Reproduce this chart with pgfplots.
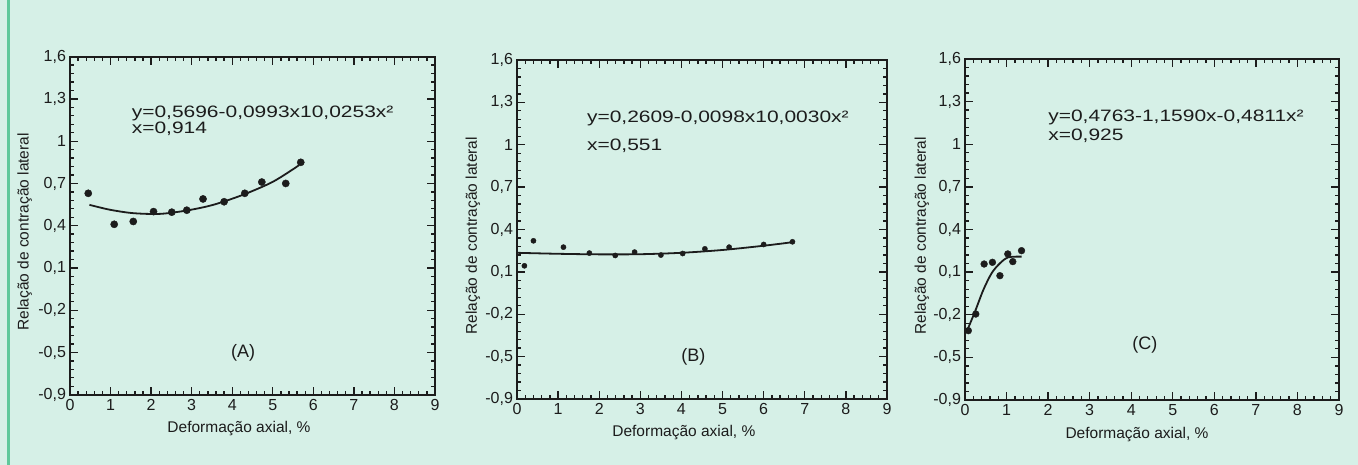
\documentclass[border=0pt]{standalone}
\usepackage{fontspec}
\setmainfont{Liberation Sans}
\usepackage{graphicx}
\usepackage{pgfplots}
\pgfplotsset{compat=1.18}
\definecolor{bgmint}{RGB}{214,240,231}
\definecolor{ink}{RGB}{28,28,28}
\definecolor{edgegreen}{RGB}{95,200,155}

\pgfplotsset{panel/.style={
  scale only axis,
  xmin=0, xmax=9, ymin=-0.8, ymax=1.6,
  xtick={0,...,9},
  ytick={-0.8,-0.5,-0.2,0.1,0.4,0.7,1.0,1.3,1.6},
  yticklabels={{-0,9},{-0,5},{-0,2},{0,1},{0,4},{0,7},{1},{1,3},{1,6}},
  minor x tick num=4, minor y tick num=4,
  tick align=inside,
  major tick length=8pt, minor tick length=4pt,
  axis line style={ink, line width=2.2pt},
  tick style={ink, line width=1.3pt},
  tick label style={font=\fontsize{16}{16}\selectfont, text=ink},
  yticklabel style={xshift=-0.5pt},
  xticklabel style={yshift=-1pt},
  /pgf/number format/assume math mode=true,
  xlabel={Deformação axial, \%},
  ylabel={Relação de contração lateral},
  label style={font=\fontsize{15.5}{16}\selectfont, text=ink},
  clip=false,
}}
\tikzset{eqn/.style={anchor=west, font=\fontsize{16.5}{17}\selectfont, text=ink, inner sep=0pt},
         tag/.style={anchor=center, font=\fontsize{18}{19}\selectfont, text=ink, inner sep=0pt}}
\newcommand{\wide}[1]{\scalebox{1.27}[1]{#1}}

\begin{document}
\begin{tikzpicture}
\fill[bgmint] (0pt,0pt) rectangle (1358pt,-465pt);
\draw[edgegreen, line width=3pt] (8pt,0pt) -- (8pt,-465pt);

% ---------- Panel A ----------
\begin{axis}[panel, at={(70pt,-56.7pt)}, anchor=north west, width=365pt, height=338pt,
  xlabel style={at={(axis description cs:0.463,-0.1)}, anchor=center},
  ylabel style={at={(axis description cs:-0.124,0.482)}, anchor=center}]
\addplot[ink, line width=1.8pt, smooth] coordinates {
 (0.48,0.548) (0.99,0.513) (1.56,0.489) (2.22,0.484) (2.88,0.508)
 (3.53,0.548) (4.27,0.620) (5.01,0.713) (5.65,0.830)};
\addplot[only marks, mark=*, mark size=3.6pt, ink] coordinates {
 (0.45,0.63) (1.09,0.41) (1.56,0.43) (2.06,0.50) (2.51,0.496) (2.88,0.51)
 (3.28,0.59) (3.80,0.57) (4.31,0.63) (4.73,0.71) (5.32,0.70) (5.69,0.85)};
\node[eqn] at (axis cs:1.52,1.200) {\wide{y=0,5696-0,0993x10,0253x²}};
\node[eqn] at (axis cs:1.52,1.085) {\wide{x=0,914}};
\node[tag] at (axis cs:4.27,-0.50) {(A)};
\end{axis}

% ---------- Panel B ----------
\begin{axis}[panel, at={(517pt,-60pt)}, anchor=north west, width=370pt, height=339pt,
  xlabel style={at={(axis description cs:0.451,-0.1)}, anchor=center},
  ylabel style={at={(axis description cs:-0.119,0.482)}, anchor=center}]
\addplot[ink, line width=1.8pt, smooth] coordinates {
 (0,0.235) (1,0.228) (2,0.224) (3,0.225) (4,0.235) (5,0.255) (6,0.285) (6.7,0.31)};
\addplot[only marks, mark=*, mark size=2.6pt, ink] coordinates {
 (0.18,0.143) (0.40,0.32) (1.13,0.275) (1.76,0.233) (2.39,0.216) (2.86,0.24)
 (3.50,0.219) (4.03,0.23) (4.57,0.263) (5.16,0.275) (6.00,0.294) (6.70,0.313)};
\node[eqn] at (axis cs:1.70,1.185) {\wide{y=0,2609-0,0098x10,0030x²}};
\node[eqn] at (axis cs:1.70,0.99) {\wide{x=0,551}};
\node[tag] at (axis cs:4.29,-0.50) {(B)};
\end{axis}

% ---------- Panel C ----------
\begin{axis}[panel, at={(965pt,-59pt)}, anchor=north west, width=374pt, height=341pt,
  xlabel style={at={(axis description cs:0.46,-0.1)}, anchor=center},
  ylabel style={at={(axis description cs:-0.115,0.482)}, anchor=center}]
\addplot[ink, line width=1.8pt, smooth] coordinates {
 (0.04,-0.319) (0.24,-0.178) (0.44,-0.026) (0.64,0.092) (0.84,0.162)
 (1.04,0.204) (1.36,0.209)};
\addplot[only marks, mark=*, mark size=3.4pt, ink] coordinates {
 (0.08,-0.312) (0.26,-0.195) (0.46,0.157) (0.66,0.169) (0.84,0.075)
 (1.03,0.228) (1.15,0.174) (1.36,0.251)};
\node[eqn] at (axis cs:2.0,1.19) {\wide{y=0,4763-1,1590x-0,4811x²}};
\node[eqn] at (axis cs:2.0,1.058) {\wide{x=0,925}};
\node[tag] at (axis cs:4.33,-0.41) {(C)};
\end{axis}

\pgfresetboundingbox
\path[use as bounding box] (0pt,0pt) rectangle (1358pt,-465pt);
\end{tikzpicture}
\end{document}
